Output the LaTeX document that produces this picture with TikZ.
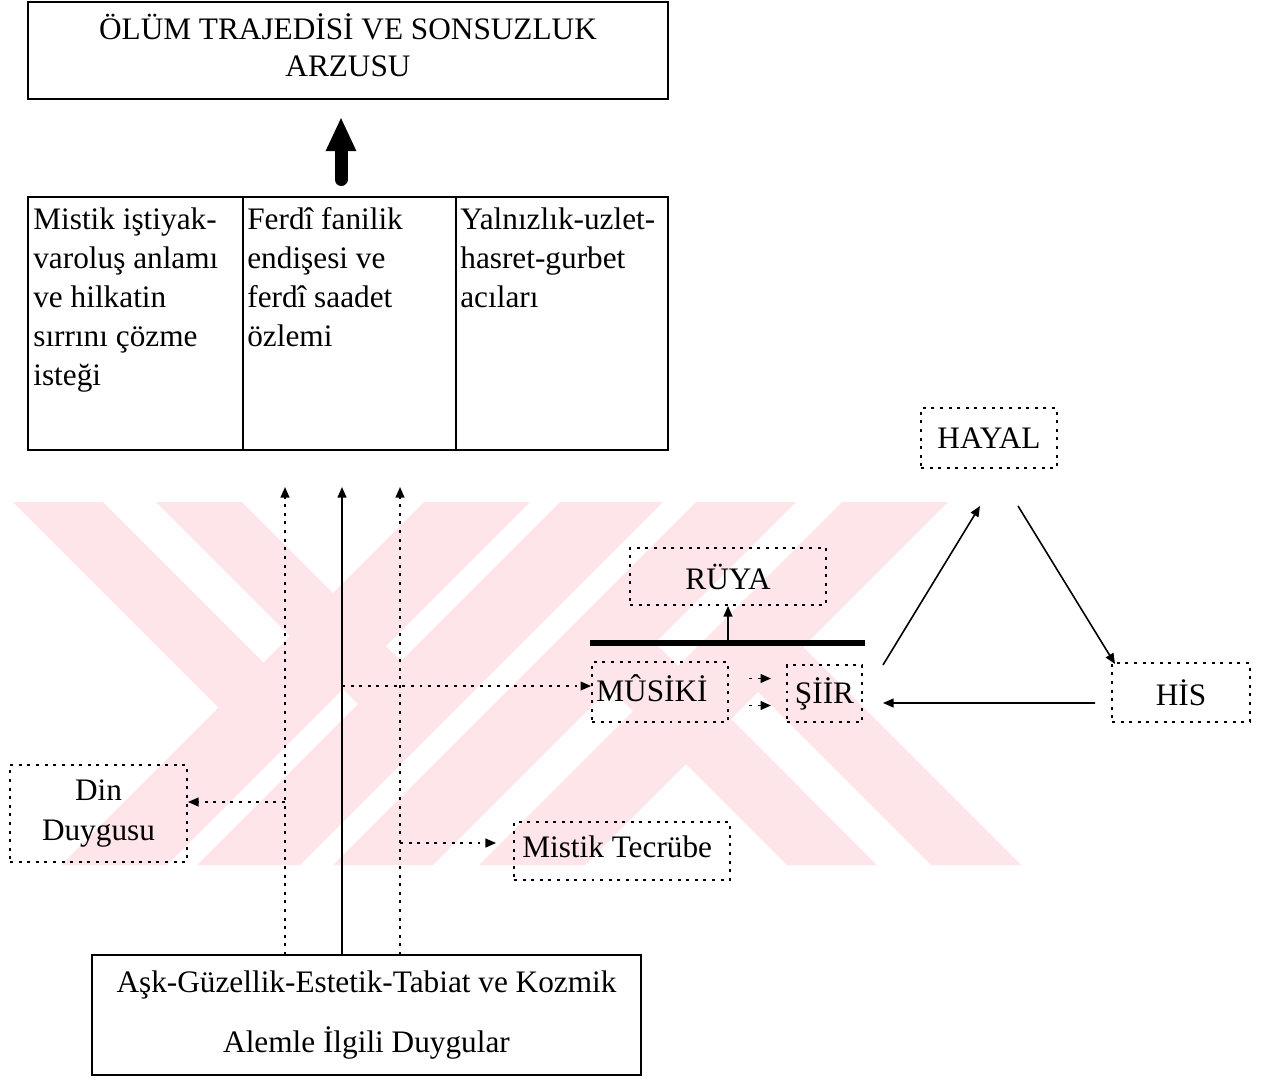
\documentclass[tikz,border=0pt]{standalone}
\usepackage{fontspec}
\setmainfont{Liberation Serif}
\usetikzlibrary{arrows.meta, positioning, calc}
\definecolor{wmpink}{RGB}{253,229,234}
\newcommand{\feeder}[2]
{
	\draw[#1] (duygular.north -| #2) -- (#2)
}

\begin{document}
\begin{tikzpicture}[font=\fontsize{17.8}{22.2}\selectfont,
			frame/.style={shape=rectangle,
				draw=black,
				line width=1pt,
			inner sep=0, outer sep=0},
			dotframe/.style={shape=rectangle, draw=black, line width=1.1pt,
				dash pattern=on 1.7pt off 3.2pt, inner sep=0},
			arr/.style={line width=0.9pt, -{Triangle[length=6pt, width=5pt]}},
			dotarr/.style={arr, dash pattern=on 1.7pt off 3.2pt}]
	\useasboundingbox (0, 0) rectangle (25.24, -21.62);
	
	% watermark
	\begin{scope}[wmpink]
		\fill (8.48, -10.04) -- (10.60, -10.04) -- (3.34, -17.30) -- (1.22, -17.30) -- cycle;
		\fill (11.20, -10.04) -- (13.26, -10.04) -- (6.00, -17.30) -- (3.94, -17.30) -- cycle;
		\fill (13.92, -10.04) -- (15.92, -10.04) -- (8.66, -17.30) -- (6.66, -17.30) -- cycle;
		\fill (16.84, -10.04) -- (18.96, -10.04) -- (11.70, -17.30) -- (9.58, -17.30) -- cycle;
		\fill (0.26, -10.04) -- (2.06, -10.04) -- (6.33, -14.31) -- (4.37, -14.15) -- cycle;
		\fill (3.12, -10.04) -- (4.84, -10.04) -- (9.05, -14.25) -- (7.16, -14.08) -- cycle;
		\fill (11.20, -12.76) -- (13.10, -12.86) -- (17.54, -17.30) -- (15.74, -17.30) -- cycle;
		\fill (14.10, -12.78) -- (16.06, -12.94) -- (20.42, -17.30) -- (18.62, -17.30) -- cycle;
	\end{scope}
	
	\node[frame, minimum width=12.8cm, minimum height=1.94cm,
		label={[align=center, yshift=0.1cm, font=\fontsize{17.8}{21}\selectfont]center:ÖLÜM TRAJEDİSİ VE SONSUZLUK\\ARZUSU}] at (6.96, -1.01) (title){};
	
	\node[frame, minimum width=4.30cm, minimum height=5.06cm,
		label={[anchor=north west, align=left, inner xsep=0.1cm, inner ysep=0.2cm]north west:Mistik iştiyak-\\varoluş anlamı\\ve hilkatin\\sırrını çözme\\isteği}] at (2.71, -6.47) (mistikbox){};
	\node[frame, minimum width=4.26cm, minimum height=5.06cm,
		label={[anchor=north west, align=left, inner xsep=0.08cm, inner ysep=0.2cm]north west:Ferdî fanilik\\endişesi ve\\ferdî saadet\\özlemi}] at (6.99, -6.47) (ferdi){};
	\node[frame, minimum width=4.24cm, minimum height=5.06cm,
		label={[anchor=north west, align=left, inner xsep=0.08cm, inner ysep=0.2cm]north west:Yalnızlık-uzlet-\\hasret-gurbet\\acıları}] at (11.24, -6.47) (yalniz){};
	
	\node[frame, minimum width=10.98cm, minimum height=2.4cm, align=center,
		font=\fontsize{17.8}{34}\selectfont] at (7.33, -20.30) (duygular){Aşk-Güzellik-Estetik-Tabiat ve Kozmik\\Alemle İlgili Duygular};
	
	\node[dotframe, minimum width=3.54cm, minimum height=1.94cm, align=center] at (1.97, -16.27) (din){Din\\Duygusu};
	\node[dotframe, minimum width=4.32cm, minimum height=1.16cm,
		label={[anchor=west, xshift=0.06cm, yshift=0.08cm]west:Mistik Tecrübe}] at (12.44, -17.02) (mistik){};
	\node[dotframe, minimum width=3.92cm, minimum height=1.14cm] at (14.56, -11.53) (ruya){RÜYA};
	\node[dotframe, minimum width=2.72cm, minimum height=1.20cm,
		label={[xshift=-0.16cm, yshift=0.08cm]center:MÛSİKİ}] at (13.20, -13.84) (musiki){};
	\node[dotframe, minimum width=1.50cm, minimum height=1.14cm] at (16.49, -13.87) (siir){ŞİİR};
	\node[dotframe, minimum width=2.72cm, minimum height=1.20cm] at (19.78, -8.76) (hayal){HAYAL};
	\node[dotframe, minimum width=2.76cm, minimum height=1.18cm] at (23.62, -13.85) (his){HİS};
	
	\coordinate (upA) at (5.70, -9.74);
	\coordinate (upB) at (6.84, -9.74);
	\coordinate (upC) at (8.00, -9.74);
	\coordinate (barL) at (11.80, -12.86);
	\coordinate (barR) at (17.30, -12.86);
	\coordinate (musin) at ([yshift=0.12cm]musiki.west);
	\coordinate (dinin) at ([yshift=0.23cm]din.east);
	\coordinate (misin) at ([yshift=0.16cm]mistik.west);
	\coordinate (mA) at ([yshift=0.27cm]musiki.east);
	\coordinate (mB) at ([yshift=-0.27cm]musiki.east);
	
	\draw[line width=0.26cm, line cap=round, shorten <=0.35cm, shorten >=0.36cm,
		-{Triangle[length=0.68cm, width=0.56cm]}] ([xshift=-0.17cm]ferdi.north) -- ([xshift=-0.17cm]ferdi.north |- title.south);
	
	\feeder{dotarr}{upA};
	\feeder{arr}{upB};
	\feeder{dotarr}{upC};
	
	\draw[dotarr] (upA |- dinin) -- (dinin);
	\draw[dotarr] (upB |- musin) -- (musin);
	\draw[dotarr, shorten >=0.34cm] (upC |- misin) -- (misin);
	\draw[dotarr, shorten <=0.4cm, shorten >=0.3cm] (mA) -- (mA -| siir.west);
	\draw[dotarr, shorten <=0.4cm, shorten >=0.3cm] (mB) -- (mB -| siir.west);
	
	\draw[line width=3pt] (barL) -- (barR);
	\draw[arr] (ruya.south |- barL) -- (ruya.south);
	
	\draw[arr] ([shift={(0.4, 0.57)}]siir.east) -- ([shift={(-0.18, -0.74)}]hayal.south);
	\draw[arr] ([shift={(0.58, -0.74)}]hayal.south) -- ([shift={(0.08, -0.04)}]his.north west);
	\draw[arr] ([shift={(-0.32, -0.21)}]his.west) -- ([shift={(0.4, -0.19)}]siir.east);
\end{tikzpicture}
\end{document}
